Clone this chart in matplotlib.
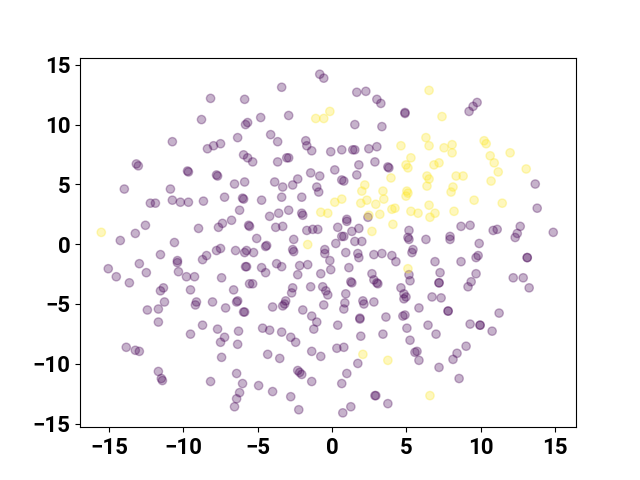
import numpy as np
import matplotlib
matplotlib.use("Agg")
import matplotlib.pyplot as plt

# cluster 0 (purple) points
x0 = [-8.17, -5.88, -8.78, -5.82, -5.68, -6.35, -10.74, -8.38, -7.97, -7.50,
      -5.95, -5.68, -5.34, -13.16, -13.03, -9.72, -9.66, -7.77, -7.70, -0.83,
      -0.56, -3.39, 1.66, 2.27, 3.01, 3.28, 4.90, 4.90, -4.80, -2.92,
      1.53, 3.35, -4.13, -3.66, -1.77, -1.70, -1.37, -0.09, 0.65, 1.39,
      1.53, 2.47, 3.01, 3.75, 3.82, -3.66, -3.05, -2.92, 1.80, 2.88,
      -1.44, -0.83, 0.18, 1.66, -2.31, -3.86, 0.65, 0.79, 9.75, 9.48,
      9.21, -6.56, -5.88, -13.97, -10.87, -6.02, -5.95, -12.22, -11.88, -10.74,
      -10.20, -9.66, -8.65, -7.23, -6.22, -14.24, -13.23, -12.55, -8.98, -7.64,
      -7.37, -6.76, -5.61, -10.60, -11.54, -10.40, -10.40, -10.33, -9.79, -9.25,
      -8.71, -8.44, -7.77, -7.50, -6.49, -5.75, -5.82, -15.05, -14.51, -13.63,
      -12.96, -12.49, -7.43, -5.55, -11.54, -11.34, -9.52, -6.62, -11.27, -12.42,
      -11.68, -9.12, -9.19, -8.04, -7.16, -6.42, -6.35, -5.95, -11.68, -9.52,
      -8.71, -7.70, -6.29, -7.23, -7.50, -6.35, -7.43, -13.84, -13.23, -12.96,
      -11.68, -11.48, -11.41, -8.17, -6.42, -6.02, -6.22, -6.42, -6.56,
      -3.32, -2.65, -1.03, -0.90, 2.41, -4.74, -3.39, -2.04, -4.20, -3.59,
      -2.92, -2.04, -1.97, -5.55, -3.79, -3.32, -1.70, -1.30, -0.96, 0.38,
      0.99, 0.99, 1.33, 1.80, 0.65, 0.79, 0.25, 1.53, 2.00, -2.58,
      -5.07, -4.47, -4.40, -2.65, -2.58, -5.88, -5.28, -0.49, -0.49, 0.92,
      1.73, 1.80, 2.81, 3.35, 4.02, 4.29, 5.17, 5.10, 5.17, 5.37,
      5.44, -5.75, -4.74, -4.47, -3.73, -3.39, -2.18, -1.64, -0.15, -0.09,
      1.13, -2.31, -0.76, 2.68, 5.17, 5.24, -5.34, -2.65, -2.72, -1.44,
      -0.63, -0.42, -0.29, 1.33, 1.26, 2.81, 3.01, 3.08, 4.63, 4.83,
      4.97, 0.92, -3.12, 2.07,
      -5.88, -4.00, -3.32, -3.19, -1.97, -1.37, -1.03, -1.23, -0.56, 0.79,
      0.86, 2.14, 2.81, 1.87, 1.87, 3.62, 4.76, 4.90, 4.83, 5.03,
      5.24, 0.38, 1.93, 3.42, -4.67, -4.20, -3.39, -2.78, -2.45, -4.33,
      -3.52, -1.37, -0.76, 0.32, 0.79, 1.73, 0.99, 0.65, -2.31, -2.18,
      -2.04, -1.37, -4.94, -4.00, -2.78, -2.24, 2.88, 2.94, 3.75, 0.72,
      1.26, 5.57,
      6.72, 7.33, 5.84, 7.80, 7.80, 11.23, 9.28, 9.95, 9.95, 10.76,
      6.45, 6.99, 5.71, 5.84, 9.01, 8.40, 8.13, 7.19, 8.54,
      13.66, 13.79, 8.67, 9.28, 10.83, 11.10, 12.65, 12.45, 12.31, 14.87,
      6.31, 7.93, 7.93, 9.89, 9.82, 9.68, 6.92, 8.67, 13.12, 13.12,
      7.26, 9.68, 7.19, 7.19, 9.35, 9.14, 12.18, 12.85, 13.25]
y0 = [12.19, 12.11, 10.42, 10.00, 10.17, 8.91, 8.57, 7.98, 8.23, 8.40,
      7.47, 7.22, 6.88, 6.71, 6.55, 6.12, 6.04, 5.79, 5.70, 14.21,
      13.88, 13.12, 12.70, 12.78, 12.11, 11.77, 11.01, 10.93, 10.59, 10.76,
      10.00, 9.83, 9.16, 8.57, 8.65, 8.23, 7.81, 7.73, 7.89, 7.89,
      7.89, 7.98, 8.15, 6.46, 6.38, 6.88, 7.22, 7.22, 6.63, 6.88,
      5.96, 5.70, 6.21, 5.79, 5.45, 5.20, 5.37, 5.28, 11.85, 11.52,
      11.10, 5.03, 5.20, 4.61, 4.61, 3.85, 3.77, 3.43, 3.43, 3.68,
      3.51, 3.51, 3.60, 3.93, 2.84, 0.31, 0.90, 1.58, 1.32, 1.41,
      1.74, 2.00, 1.58, 0.14, -0.87, -1.37, -1.54, -2.30, -2.72, -2.72,
      -1.29, -0.95, -0.53, -0.36, -0.53, -0.53, -1.88, -2.05, -2.72, -3.23,
      -1.63, -2.38, -2.81, -3.31, -3.90, -3.65, -3.82, -3.82, -4.83, -5.50,
      -5.42, -4.83, -5.08, -4.83, -5.33, -4.83, -4.74, -5.67, -6.51, -7.52,
      -6.77, -7.10, -7.27, -7.78, -8.20, -8.37, -9.46, -8.62, -8.87, -8.96,
      -10.64, -11.23, -11.40, -11.48, -10.81, -11.65, -12.41, -12.92, -13.59,
      4.78, 4.95, 4.78, 4.36, 2.25, 3.68, 3.93, 3.93, 2.33, 2.59,
      2.84, 2.59, 2.42, 1.49, 1.41, 1.49, 1.15, 1.24, 1.24, 1.41,
      2.08, 1.91, 1.07, 1.32, 0.65, 0.65, 0.06, 0.23, 0.23, 0.40,
      0.48, -0.19, -0.11, -0.45, -0.62, -0.70, -0.70, -0.45, -0.78, -0.70,
      -0.78, -1.12, -0.87, -0.78, -0.95, -1.46, 1.15, 0.56, 0.40, -0.70,
      -0.45, -1.88, -1.96, -2.38, -1.63, -1.88, -1.79, -1.71, -1.37, -2.13,
      -1.96, -2.55, -2.47, -2.47, -2.55, -3.06, -3.31, -3.65, -4.07, -3.56,
      -3.56, -3.90, -4.24, -3.23, -3.14, -2.98, -3.23, -3.31, -3.65, -4.15,
      -4.41, -4.15, -4.74, -4.74,
      -5.67, -5.25, -5.16, -5.00, -5.50, -6.01, -6.51, -7.10, -5.08, -5.42,
      -4.91, -5.00, -4.83, -6.18, -6.26, -6.09, -6.01, -5.92, -4.57, -7.02,
      -8.03, -6.77, -7.69, -7.52, -7.02, -7.19, -7.35, -7.78, -8.20, -9.21,
      -9.55, -8.96, -9.38, -8.70, -8.62, -9.97, -10.81, -11.65, -10.56, -10.72,
      -10.89, -11.48, -11.82, -12.32, -12.75, -13.84, -12.66, -12.66, -13.33, -14.10,
      -13.59, -9.04,
      -4.41, -4.49, -5.33, -5.59, -5.59, -5.76, -6.68, -6.77, -6.77, -7.27,
      -6.77, -7.52, -8.96, -9.71, -8.53, -9.12, -9.63, -10.30, -11.23,
      5.03, 3.01, 1.49, 1.58, 1.15, 1.24, 1.49, 0.90, 0.56, 0.99,
      0.40, 0.65, 0.40, 0.06, -0.95, -1.12, -1.46, -1.46, -1.12, -1.12,
      -2.38, -2.47, -3.23, -3.23, -3.14, -3.56, -2.81, -2.81, -3.65]

# cluster 1 (yellow) points
x1 = [-0.15, -0.56, -1.10, 4.63, 5.30, 4.97, 5.10, 3.96, 6.52, 7.39,
      6.31, 6.52, 7.53, 8.07, 8.07, 10.22, 10.36, 10.63, 11.97, 10.90,
      11.17, 13.05, 6.85, 7.19, 6.38, 6.52, 8.34, 8.81, 10.69, -15.52,
      2.20, 2.00, 3.42, 5.03, 5.10, 4.97, 0.18, 0.65, 2.34, 1.93,
      2.94, 3.48, 4.02, 4.23, 5.30, 3.21, 2.47, -0.76, -0.29, 4.09,
      2.68, -1.64, 6.38, 8.13, 8.00, 9.55, 11.44, 6.52, 5.78, 6.92,
      6.58, 8.20, 5.10, 2.07, 3.75, 6.58]
y1 = [11.10, 10.51, 10.51, 8.23, 7.22, 6.63, 6.38, 5.54, 12.86, 10.67,
      8.91, 8.23, 8.06, 8.32, 7.64, 8.65, 8.40, 7.39, 7.64, 6.80,
      6.04, 6.29, 6.63, 6.80, 5.70, 5.45, 5.70, 5.70, 5.28, 0.99,
      4.95, 4.44, 4.44, 4.44, 4.27, 4.02, 3.51, 3.77, 3.68, 3.43,
      3.34, 3.77, 2.92, 3.01, 2.75, 2.50, 2.42, 2.67, 2.59, 1.66,
      1.07, -0.03, 4.86, 4.78, 4.36, 3.68, 3.43, 3.26, 2.59, 2.59,
      2.25, 2.75, -2.05, -9.21, -9.71, -12.66]

xs = np.array(x0 + x1)
ys = np.array(y0 + y1)
labels = np.array([0] * len(x0) + [1] * len(x1))

plt.rcParams['font.family'] = ['Roboto', 'DejaVu Sans']
plt.rcParams['font.weight'] = 'bold'

fig = plt.figure(figsize=(6.4, 4.8), dpi=100)
ax = fig.add_subplot(111)
ax.scatter(xs, ys, c=labels, cmap='viridis', alpha=0.3)

ax.set_xlim(-16.95, 16.4)
ax.set_ylim(-15.3, 15.6)
ax.set_xticks([-15, -10, -5, 0, 5, 10, 15])
ax.set_yticks([-15, -10, -5, 0, 5, 10, 15])
ax.tick_params(labelsize=16)
for lab in ax.get_xticklabels() + ax.get_yticklabels():
    lab.set_fontweight('bold')

fig.savefig('out.png')
